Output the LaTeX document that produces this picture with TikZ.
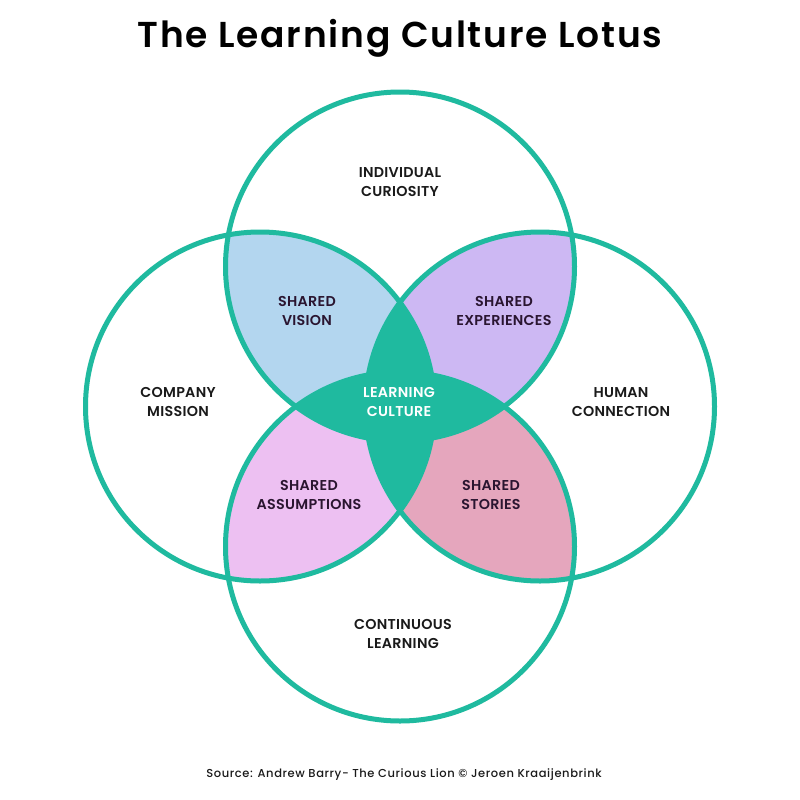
\documentclass[tikz,border=0pt]{standalone}
\usepackage{fontspec}
\setmainfont{Poppins}
\newfontfamily\semil{Poppins SemiBold}[LetterSpace=2]
\newfontfamily\semit{Poppins SemiBold}[LetterSpace=5]
\newfontfamily\medi{Poppins Medium}[LetterSpace=5.2]
\definecolor{tealc}{HTML}{1FBA9F}
\definecolor{blueL}{HTML}{B3D6EF}
\definecolor{purpL}{HTML}{CDB8F3}
\definecolor{pinkL}{HTML}{EDC0F2}
\definecolor{roseL}{HTML}{E5A6BD}
\definecolor{txt}{HTML}{1A1A1A}
\definecolor{txtd}{HTML}{2A1530}
\tikzset{
  lbl/.style={align=center, font=\semil\fontsize{14.3}{19}\selectfont, text=txt, inner sep=0pt},
  lbld/.style={lbl, text=txtd},
  ring/.style={draw=tealc, line width=5pt}
}
\begin{document}
\begin{tikzpicture}[x=1pt,y=-1pt]
\useasboundingbox (0,0) rectangle (800,800);
\fill[white] (0,0) rectangle (800,800);
\def\rr{174.5pt}
\coordinate (T) at (400,266.5);
\coordinate (B) at (400,546.5);
\coordinate (L) at (260,406.5);
\coordinate (R) at (540,406.5);
% lenses
\begin{scope}\clip (T) circle[radius=\rr]; \fill[blueL] (L) circle[radius=\rr];\end{scope}
\begin{scope}\clip (T) circle[radius=\rr]; \fill[purpL] (R) circle[radius=\rr];\end{scope}
\begin{scope}\clip (B) circle[radius=\rr]; \fill[pinkL] (L) circle[radius=\rr];\end{scope}
\begin{scope}\clip (B) circle[radius=\rr]; \fill[roseL] (R) circle[radius=\rr];\end{scope}
% center star
\begin{scope}\clip (L) circle[radius=\rr]; \fill[tealc] (R) circle[radius=\rr];\end{scope}
\begin{scope}\clip (T) circle[radius=\rr]; \fill[tealc] (B) circle[radius=\rr];\end{scope}
% rings
\draw[ring] (T) circle[radius=\rr];
\draw[ring] (B) circle[radius=\rr];
\draw[ring] (L) circle[radius=\rr];
\draw[ring] (R) circle[radius=\rr];
% title
\node[font=\semit\fontsize{36}{40}\selectfont, text=black, inner sep=0pt] (title) at (400,38) {The Learning Culture Lotus};
% labels
\node[lbl] (ic) at (400,182.5) {INDIVIDUAL\\CURIOSITY};
\node[lbld] (sv) at (307,310.5) {SHARED\\VISION};
\node[lbld] (se) at (504,310.5) {SHARED\\EXPERIENCES};
\node[lbl] (cm) at (178,402) {COMPANY\\MISSION};
\node[lbl] (hc) at (621,402) {HUMAN\\CONNECTION};
\node[lbl, text=white] (lc) at (399,402) {LEARNING\\CULTURE};
\node[lbld] (sa) at (309,494.5) {SHARED\\ASSUMPTIONS};
\node[lbld] (ss) at (491,494.5) {SHARED\\STORIES};
\node[lbl] (cl) at (403,633.5) {CONTINUOUS\\LEARNING};
\node[font=\medi\fontsize{11.5}{13}\selectfont, text=txt, inner sep=0pt] (src) at (404,775) {Source: Andrew Barry- The Curious Lion © Jeroen Kraaijenbrink};
\end{tikzpicture}
\end{document}
